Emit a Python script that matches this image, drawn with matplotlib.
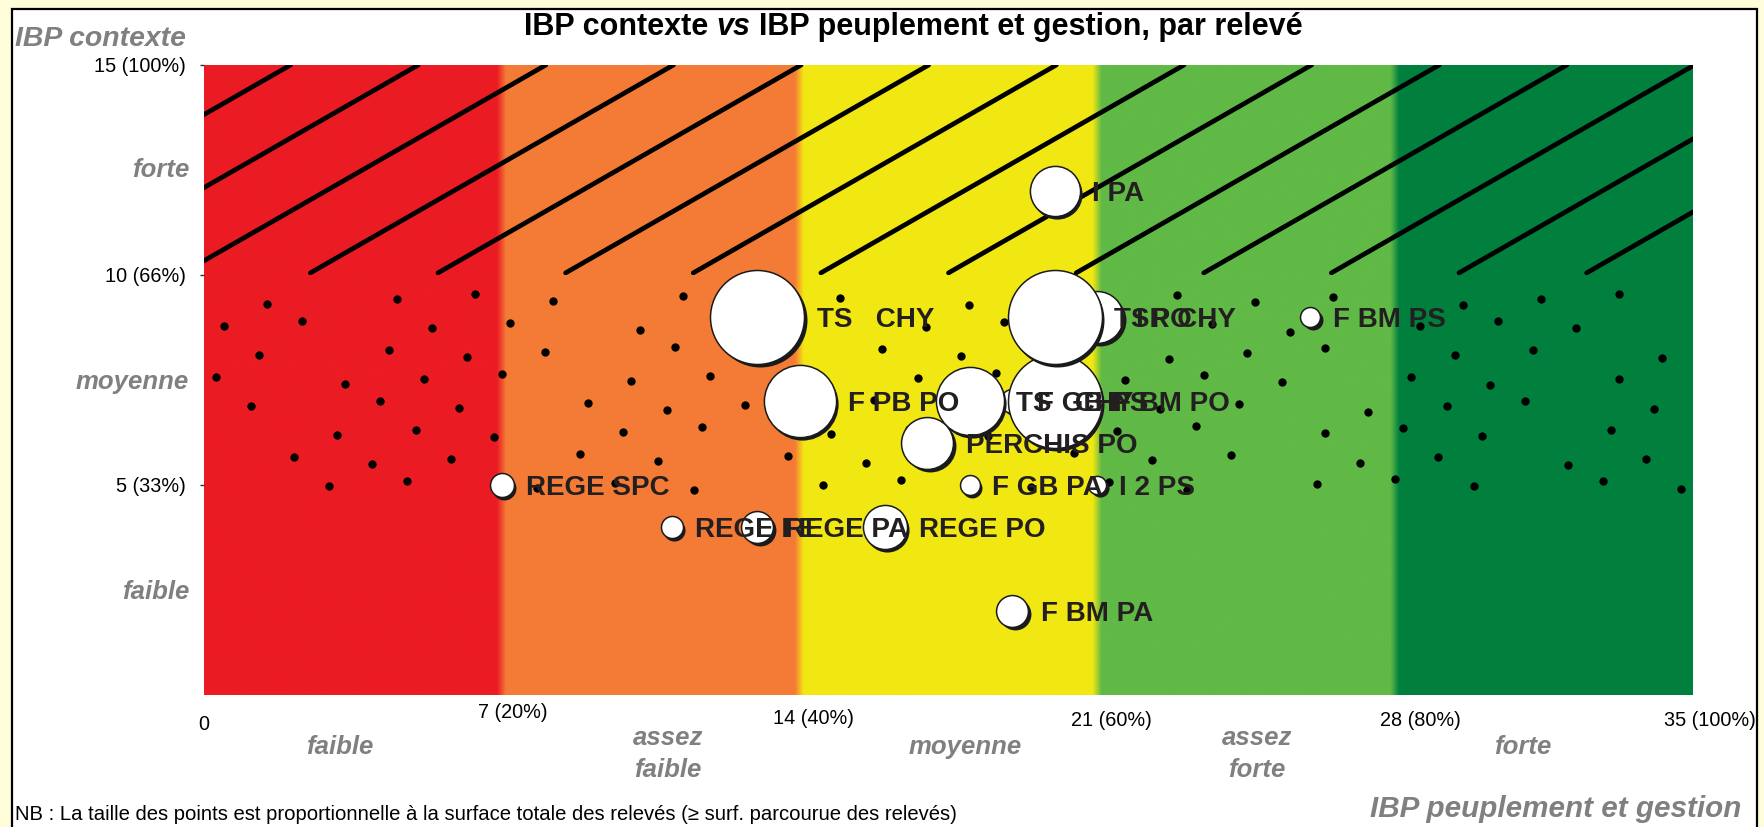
import numpy as np
import matplotlib
matplotlib.use("Agg")
import matplotlib.pyplot as plt
import matplotlib.transforms as mtransforms
from matplotlib.patches import Rectangle
from matplotlib.colors import to_rgb

# ---------------- data ----------------
releves = ["F GB PS", "TS   CHY", "F BM PO", "I PO", "TSR CHY", "TS   CHY", "F PB PO",
           "I PA", "PERCHIS PO", "F GB PA", "I 2 PS", "REGE SPC", "REGE FE",
           "REGE PA", "REGE PO", "F BM PA", "F BM PS"]
ibp_peuplement = [19, 18, 20, 21, 20, 13, 14, 20, 17, 18, 21, 7, 11, 13, 16, 19, 26]
ibp_contexte = [7, 7, 7, 9, 9, 9, 7, 12, 6, 5, 5, 5, 4, 4, 4, 2, 9]
surface_ha = [1.3, 10.5, 20.0, 6.1, 20.0, 20.0, 11.8, 5.7, 6.1, 0.9, 0.75,
              1.3, 1.1, 2.3, 4.4, 2.3, 0.9]

x_ticks = [0, 7, 14, 21, 28, 35]
x_tick_labels = ["0", "7 (20%)", "14 (40%)", "21 (60%)", "28 (80%)", "35 (100%)"]
y_ticks = [5, 10, 15]
y_tick_labels = ["5 (33%)", "10 (66%)", "15 (100%)"]
x_classes = ["faible", "assez\nfaible", "moyenne", "assez\nforte", "forte"]
y_classes = ["faible", "moyenne", "forte"]
zone_bounds = [0, 7, 14, 21, 28, 35]

# ---------------- style ----------------
W, H, DPI = 1764, 827, 100
zone_colors = ["#EC1C24", "#F47C36", "#F2E812", "#61BA46", "#007F3E"]
GRAY = "#808080"
TXT = "#231F20"
FONT = "Liberation Sans"
FS_LAB = 20
R_MAX_PX = 47.0
S_MAX = 20.0

def fx(x):
    return x / W

def fy(y):
    return 1 - y / H

fig = plt.figure(figsize=(W / DPI, H / DPI), dpi=DPI, facecolor="#FFFCD9")
fig.patches.append(Rectangle((fx(12), fy(835)), fx(1757) - fx(12), fy(9) - fy(835),
                             transform=fig.transFigure, facecolor="white",
                             edgecolor="black", lw=1.6, zorder=-5))

ax = fig.add_axes([fx(204), fy(695), fx(1693) - fx(204), fy(65) - fy(695)])
ax.set_facecolor("white")

# background zones with soft transitions
step = 0.01
xs = np.arange(0, 35 + step / 2, step)
cols = np.array([to_rgb(c) for c in zone_colors])
idx = np.clip((xs // 7).astype(int), 0, 4)
img = cols[idx]
k = 10
kernel = np.ones(2 * k + 1) / (2 * k + 1)
sm = np.empty_like(img)
for ch in range(3):
    padded = np.pad(img[:, ch], k, mode="edge")
    sm[:, ch] = np.convolve(padded, kernel, mode="valid")
ax.imshow(sm[None, :, :], extent=[0, 35, 0, 15], aspect="auto", zorder=0,
          interpolation="bilinear", origin="lower")

# hatch lines in the "forte" band
clip_rect = Rectangle((0, 10), 35, 5, transform=ax.transData)
slope = 0.58
for x0 in np.arange(-6.5, 35, 3.0):
    ln, = ax.plot([x0, x0 + 4.95 / slope], [10.05, 15.0], color="black", lw=3.4,
                  solid_capstyle="round", zorder=1)
    ln.set_clip_path(clip_rect)

# dots in the "moyenne" band
dx, dy = [], []
kk = 0
for i, yr in enumerate(np.linspace(5.0, 9.41, 8)):
    for xr in np.arange(0.5 + (i % 2) * 1.15, 35, 2.3):
        jx = ((kk * 0.6180339) % 1 - 0.5) * 1.2
        jy = ((kk * 0.4142136) % 1 - 0.5) * 0.3
        xv = xr + jx
        if 0.1 < xv < 34.9:
            dx.append(xv)
            dy.append(yr + jy)
        kk += 1
ax.scatter(dx, dy, s=36, color="black", lw=0, zorder=1)

# bubbles
r_px = [R_MAX_PX * np.sqrt(s / S_MAX) for s in surface_ha]
sizes = [(2 * r * 72 / DPI) ** 2 for r in r_px]
shadow = mtransforms.offset_copy(ax.transData, fig=fig, x=2.5, y=-2.5, units="dots")
for i in range(len(releves)):
    ax.scatter([ibp_peuplement[i]], [ibp_contexte[i]], s=sizes[i], color="#1a1a1a",
               lw=0, transform=shadow, zorder=3 + i * 0.01)
    ax.scatter([ibp_peuplement[i]], [ibp_contexte[i]], s=sizes[i], facecolor="white",
               edgecolor="#1a1a1a", lw=1.1, zorder=3 + i * 0.01 + 0.005)

for i, lab in enumerate(releves):
    r_pt = r_px[i] * 72 / DPI
    ax.annotate(lab, (ibp_peuplement[i], ibp_contexte[i]),
                xytext=(r_pt + 9.0, -0.358 * FS_LAB), textcoords="offset points",
                ha="left", va="baseline", fontsize=FS_LAB, fontweight="bold",
                color=TXT, family=FONT, zorder=10)

ax.set_xlim(0, 35)
ax.set_ylim(0, 15)
for sp in ax.spines.values():
    sp.set_visible(False)
ax.set_xticks([])
ax.set_yticks(y_ticks, y_tick_labels, fontsize=14.3, family=FONT)
ax.tick_params(axis="y", length=3, width=1, color="#333333", pad=10)

# x tick labels
xt_dx = [0, 11, 14, 14, 25, 17]
xt_y = [724, 713, 719, 721, 720, 720]
bt = mtransforms.blended_transform_factory(ax.transData, fig.transFigure)
for xv, lab, ddx, yy in zip(x_ticks, x_tick_labels, xt_dx, xt_y):
    t = mtransforms.offset_copy(bt, fig=fig, x=ddx, y=0, units="dots")
    fig.text(xv, fy(yy), lab, transform=t, ha="center", va="center", fontsize=14.3,
             family=FONT, color="black")

# class labels on x
xc_pos = [3.2, 10.9, 17.9, 24.75, 31.0]
for xv, lab in zip(xc_pos, x_classes):
    yy = 754 if "\n" in lab else 747
    fig.text(xv, fy(yy), lab, transform=bt, ha="center", va="center", fontsize=18.5,
             fontweight="bold", fontstyle="italic", color=GRAY, family=FONT,
             linespacing=1.4, multialignment="center")

# class labels on y
bty = mtransforms.blended_transform_factory(fig.transFigure, ax.transData)
yc_pos = [2.5, 7.5, 12.55]
for yv, lab in zip(yc_pos, y_classes):
    t = mtransforms.offset_copy(bty, fig=fig, x=0, y=-0.358 * 18.5, units="points")
    fig.text(fx(189), yv, lab, transform=t, ha="right", va="baseline", fontsize=18.5,
             fontweight="bold", fontstyle="italic", color=GRAY, family=FONT)

# axis titles
fig.text(fx(15), fy(46), "IBP contexte", ha="left", va="baseline", fontsize=20.4,
         fontweight="bold", fontstyle="italic", color=GRAY, family=FONT)
fig.text(fx(1741), fy(817), "IBP peuplement et gestion", ha="right", va="baseline",
         fontsize=21.3, fontweight="bold", fontstyle="italic", color=GRAY, family=FONT)

# note
fig.text(fx(15), fy(820), "NB : La taille des points est proportionnelle à la surface "
         "totale des relevés (≥ surf. parcourue des relevés)", ha="left", va="baseline",
         fontsize=14.6, family=FONT, color="black")

# title with italic "vs"
FS_T = 22
parts = [("IBP contexte", "normal"), ("vs", "italic"),
         ("IBP peuplement et gestion, par relevé", "normal")]
fig.canvas.draw()
renderer = fig.canvas.get_renderer()
texts = []
for s, st in parts:
    t = fig.text(0, fy(35), s, ha="left", va="baseline", fontsize=FS_T,
                 fontweight="bold", fontstyle=st, family=FONT, color="black")
    texts.append(t)
probe = fig.text(0, 0, "a a", fontsize=FS_T, fontweight="bold", family=FONT)
probe2 = fig.text(0, 0, "aa", fontsize=FS_T, fontweight="bold", family=FONT)
space = probe.get_window_extent(renderer).width - probe2.get_window_extent(renderer).width
probe.remove()
probe2.remove()
widths = [t.get_window_extent(renderer).width for t in texts]
total = sum(widths) + 2 * space
x = 913.5 - total / 2
for t, w in zip(texts, widths):
    t.set_x(fx(x))
    x += w + space

fig.savefig("out.png", dpi=DPI, facecolor=fig.get_facecolor())
